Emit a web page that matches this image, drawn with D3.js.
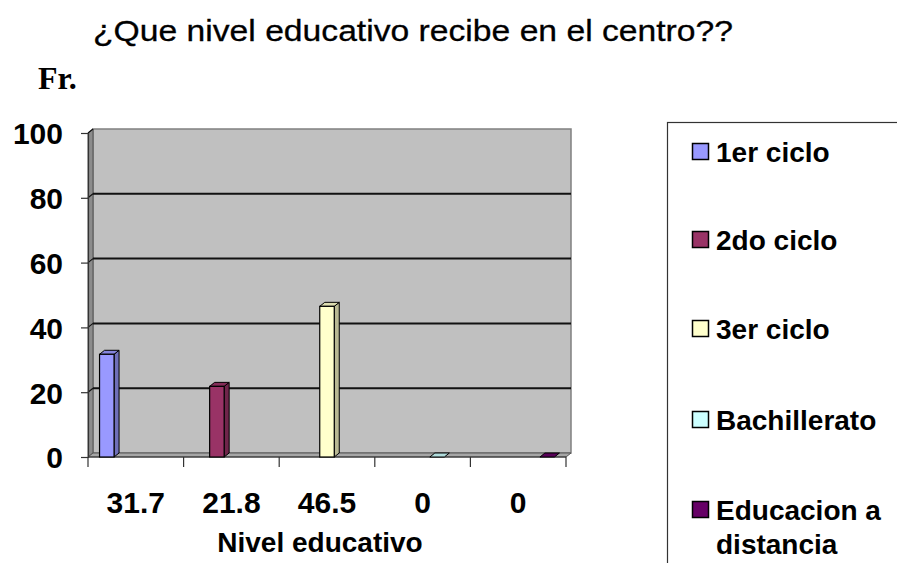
<!DOCTYPE html>
<html>
<head>
<meta charset="utf-8">
<script src="https://cdn.jsdelivr.net/npm/d3@7"></script>
<style>
  html, body { margin: 0; padding: 0; background: #fff; }
  svg { display: block; }
  text { font-family: "Liberation Sans", Arial, sans-serif; fill: #000; }
</style>
</head>
<body>
<svg id="chart" width="897" height="563"></svg>
<script>
// ---- data ----
const categories = ["31.7", "21.8", "46.5", "0", "0"];
const series = ["1er ciclo", "2do ciclo", "3er ciclo", "Bachillerato", "Educacion a distancia"];
const values = [31.7, 21.8, 46.5, 0, 0];
const seriesColors = ["#9999FF", "#993366", "#FFFFCC", "#CCFFFF", "#660066"];
const yTicks = [0, 20, 40, 60, 80, 100];
const titleText = "¿Que nivel educativo recibe en el centro??";
const yTitle = "Fr.";
const xTitle = "Nivel educativo";

(function () {
// ---- layout ----
const svg = d3.select("#chart");
const pL = 88, pR = 566, pT = 133, pB = 457;
const dx = 5, dy = -4; // depth offset

const x0 = d3.scaleBand().domain(d3.range(categories.length)).range([pL, pR]).padding(0);
const groupW = 72.5;
const x1 = d3.scaleBand().domain(d3.range(series.length))
  .range([(x0.bandwidth() - groupW) / 2, (x0.bandwidth() + groupW) / 2]).padding(0);
const y = d3.scaleLinear().domain([0, 100]).range([pB, pT]);

// ---- title ----
svg.append("text").attr("x", 93).attr("y", 41)
  .attr("font-size", 30).attr("textLength", 640).attr("lengthAdjust", "spacingAndGlyphs")
  .attr("stroke", "#000").attr("stroke-width", 0.3)
  .text(titleText);
svg.append("text").attr("x", 38).attr("y", 89)
  .style("font-family", "'Liberation Serif', 'Times New Roman', serif")
  .attr("font-size", 32).attr("font-weight", "bold").text(yTitle);

// ---- walls ----
const g = svg.append("g");
g.append("rect")
  .attr("x", pL + dx).attr("y", pT + dy)
  .attr("width", pR - pL).attr("height", pB - pT)
  .attr("fill", "#C0C0C0").attr("stroke", "#808080").attr("stroke-width", 1.5);
g.append("polygon")
  .attr("points", [[pL, pT], [pL + dx, pT + dy], [pL + dx, pB + dy], [pL, pB]].join(" "))
  .attr("fill", "#8C8C8C").attr("stroke", "#555").attr("stroke-width", 1);
g.append("polygon")
  .attr("points", [[pL, pB], [pL + dx, pB + dy], [pR + dx, pB + dy], [pR, pB]].join(" "))
  .attr("fill", "#A6A6A6").attr("stroke", "#555").attr("stroke-width", 1);

yTicks.filter(v => v > 0 && v < 100).forEach(v => {
  g.append("line")
    .attr("x1", pL + dx).attr("x2", pR + dx)
    .attr("y1", y(v) + dy).attr("y2", y(v) + dy)
    .attr("stroke", "#111").attr("stroke-width", 2);
});
yTicks.filter(v => v > 0).forEach(v => {
  g.append("line")
    .attr("x1", pL).attr("y1", y(v))
    .attr("x2", pL + dx).attr("y2", y(v) + dy)
    .attr("stroke", "#111").attr("stroke-width", 1.2);
});

// ---- y axis ----
const yAxis = d3.axisLeft(y).tickValues(yTicks).tickSize(7).tickPadding(18);
const ya = svg.append("g").attr("transform", `translate(${pL},0)`).call(yAxis);
ya.select(".domain").attr("stroke", "#333").attr("stroke-width", 1.2);
ya.selectAll(".tick line").attr("stroke", "#333").attr("stroke-width", 1.2);
ya.selectAll(".tick text").attr("font-size", 30).attr("font-weight", "bold")
  .style("font-family", "'Liberation Sans', Arial, sans-serif").attr("fill", "#000").attr("dy", "0.36em");

// ---- x axis ----
svg.append("line").attr("x1", pL).attr("x2", pR).attr("y1", pB).attr("y2", pB)
  .attr("stroke", "#333").attr("stroke-width", 1.2);
const tickXs = d3.range(categories.length).map(i => x0(i)).concat([x0.range()[1]]);
svg.selectAll(".xtick").data(tickXs).join("line").attr("class", "xtick")
  .attr("x1", d => d).attr("x2", d => d).attr("y1", pB).attr("y2", pB + 10)
  .attr("stroke", "#333").attr("stroke-width", 1.2);
svg.selectAll(".xlab").data(categories).join("text").attr("class", "xlab")
  .attr("x", (d, i) => x0(i) + x0.bandwidth() / 2).attr("y", 513)
  .attr("text-anchor", "middle").attr("font-size", 30).attr("font-weight", "bold")
  .text(d => d);
svg.append("text").attr("x", 320).attr("y", 552).attr("text-anchor", "middle")
  .attr("font-size", 28).attr("font-weight", "bold").text(xTitle);

// ---- bars ----
function shade(c, k) { return d3.color(c).darker(k).formatHex(); }
const bars = svg.append("g");
values.forEach((v, i) => {
  const bx = x0(i) + x1(i), w = x1.bandwidth();
  const yt = y(v), yb = y(0);
  const col = seriesColors[i];
  if (v > 0) {
    bars.append("polygon")
      .attr("points", [[bx + w, yt], [bx + w + dx, yt + dy], [bx + w + dx, yb + dy], [bx + w, yb]].join(" "))
      .attr("fill", shade(col, 0.9)).attr("stroke", "#000").attr("stroke-width", 1);
  }
  bars.append("polygon")
    .attr("points", [[bx, yt], [bx + dx, yt + dy], [bx + w + dx, yt + dy], [bx + w, yt]].join(" "))
    .attr("fill", shade(col, 0.4)).attr("stroke", "#000").attr("stroke-width", 1);
  if (v > 0) {
    bars.append("rect").attr("x", bx).attr("y", yt).attr("width", w).attr("height", yb - yt)
      .attr("fill", col).attr("stroke", "#000").attr("stroke-width", 1.2);
  }
});

// ---- legend ----
svg.append("rect").attr("x", 667.5).attr("y", 122.5).attr("width", 240).attr("height", 460)
  .attr("fill", "#fff").attr("stroke", "#333").attr("stroke-width", 1.2);
const legendBase = [162, 250, 339, 430, 520];
const lg = svg.append("g");
series.forEach((s, i) => {
  const b = legendBase[i];
  lg.append("rect").attr("x", 692.5).attr("y", b - 18.5).attr("width", 16).attr("height", 16)
    .attr("fill", seriesColors[i]).attr("stroke", "#000").attr("stroke-width", 1.5);
  const words = s === "Educacion a distancia" ? ["Educacion a", "distancia"] : [s];
  words.forEach((t, k) => {
    lg.append("text").attr("x", 716).attr("y", b + k * 34)
      .attr("font-size", 28).attr("font-weight", "bold").text(t);
  });
});
})();
</script>
</body>
</html>
